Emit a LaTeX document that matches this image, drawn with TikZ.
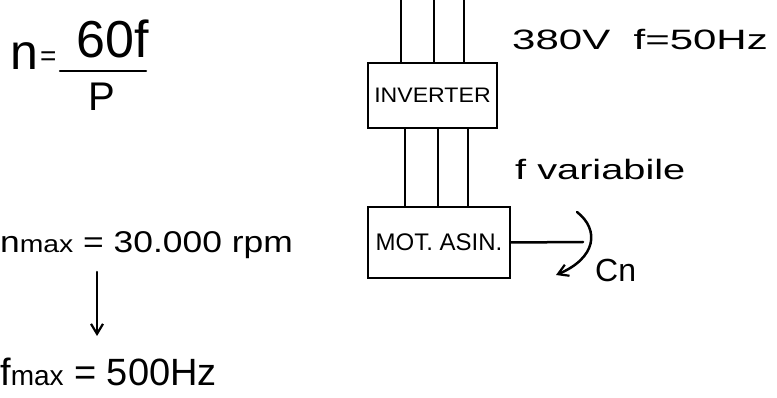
\documentclass[tikz,border=0pt]{standalone}
\usepackage{fontspec}
\setmainfont{Liberation Sans}
\usetikzlibrary{arrows.meta}
\newcommand{\fs}[1]{\fontsize{#1}{#1}\selectfont}
\begin{document}
\begin{tikzpicture}[x=1pt,y=-1pt,
  ink/.style={line width=2.5pt,line cap=round},
  txt/.style={inner sep=0pt,anchor=base west},
  boxlbl/.style={inner sep=0pt},
  blk/.style={draw,ink,rectangle,inner sep=0pt},
  arr/.style={ink,-{Straight Barb[length=10pt,width=12pt,line width=2.2pt]}}]
\useasboundingbox (0,0) rectangle (777,398);
% formula n = 60f / P
\node[txt,font=\fs{50}] (n) at (10,70) {n};
\node[txt,font=\fs{28}] (eq) at (40,66) {=};
\node[txt,font=\fs{52}] (num) at (76,58) {60f};
\node[txt,font=\fs{40}] (den) at (88,111) {P};
\coordinate (fl) at (60,71);
\coordinate (fr) at (146,71);
\draw[ink] (fl) -- (fr);
% inverter
\node[blk,minimum width=129pt,minimum height=65pt] (inv) at (432.5,95.5) {};
\node[boxlbl,font=\fs{21}] (invt) at (inv.center) {\scalebox{1.1}[1]{INVERTER}};
\coordinate (t1) at (401,0);
\coordinate (t2) at (434,0);
\coordinate (t3) at (464,0);
\foreach \c in {t1,t2,t3} \draw[ink] (\c) -- (\c |- inv.north);
\node[txt,font=\fs{28}] (supply) at (512,50) {\scalebox{1.5}[1]{380V\ \ f=50Hz}};
% motor
\node[blk,minimum width=142pt,minimum height=71pt] (mot) at (439,242.5) {};
\node[boxlbl,font=\fs{24}] (mott) at (mot.center) {MOT. ASIN.};
\foreach \x in {405,438,468} \draw[ink] (\x,0 |- inv.south) -- (\x,0 |- mot.north);
\node[txt,font=\fs{28}] (fvar) at (515,180) {\scalebox{1.42}[1]{f variabile}};
% shaft and torque
\coordinate (sh) at (583,242);
\draw[ink] (mot.east) -- (sh);
\coordinate (c1) at (577,212);
\coordinate (c2) at (556,275);
\draw[arr] (c1) .. controls (600,230) and (596,258) .. (c2);
\node[txt,font=\fs{32}] (cn) at (595,282) {Cn};
% nmax / fmax
\node[txt,font=\fs{30}] (nmax) at (0,253) {\scalebox{1.18}[1]{n{\fs{24}max} = 30.000 rpm}};
\coordinate (a1) at (97,272);
\coordinate (a2) at (97,336);
\draw[arr] (a1) -- (a2);
\node[txt,font=\fs{38}] (fmax) at (0,385) {f{\fs{28}max} = 500Hz};
\end{tikzpicture}
\end{document}
